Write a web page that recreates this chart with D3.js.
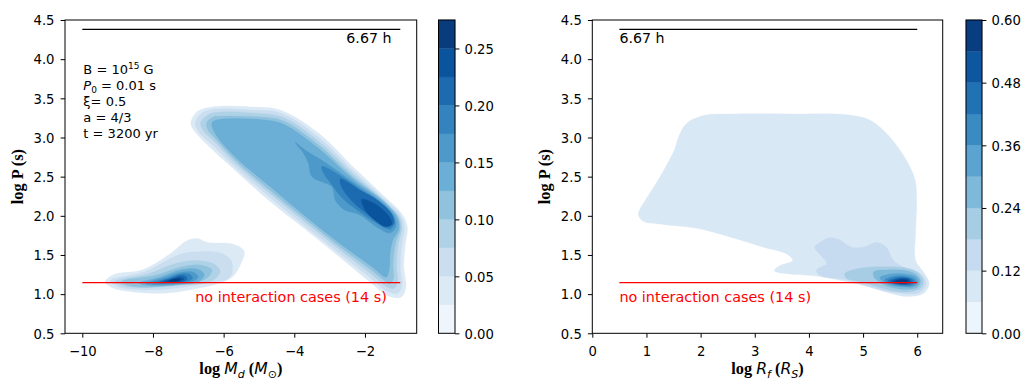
<!DOCTYPE html>
<html>
<head>
<meta charset="utf-8">
<script src="https://cdn.jsdelivr.net/npm/d3@7/dist/d3.min.js"></script>
<style>
  html, body { margin: 0; padding: 0; background: #fff; }
  svg { display: block; }
  text { font-family: "DejaVu Sans", sans-serif; fill: #000; }
</style>
</head>
<body>
<svg id="figure" width="1028" height="381"></svg>
<script>
// ---------------- axis ticks ----------------
const periodTicks = [0.5, 1.0, 1.5, 2.0, 2.5, 3.0, 3.5, 4.0, 4.5];
const diskMassTicks = [-10, -8, -6, -4, -2];
const radiusTicks = [0, 1, 2, 3, 4, 5, 6];

// ---------------- density contour levels ----------------
const diskMassLevels = [0, 0.025, 0.05, 0.075, 0.1, 0.125, 0.15, 0.175, 0.2, 0.225, 0.25, 0.275];
const radiusLevels = [0, 0.06, 0.12, 0.18, 0.24, 0.30, 0.36, 0.42, 0.48, 0.54, 0.60];
const diskMassBarTicks = [0, 0.05, 0.10, 0.15, 0.20, 0.25];
const radiusBarTicks = [0, 0.12, 0.24, 0.36, 0.48, 0.60];

// reference periods, log10(P / s)
const logPeriod667h = 4.38;        // 6.67 h
const logPeriodNoInteraction = 1.146; // 14 s
const massRefRange = [-10, -1];
const radiusRefRange = [0.5, 6];

// ---------------- KDE iso-density outlines: [level, [[x, logP], ...]] ----------------
// log P vs log Md : main (high-mass) population
const massMainContours = [
  [0.025, [[-6.93,3.18],[-6.75,3.33],[-6.35,3.39],[-5.20,3.39],[-4.40,3.35],[-3.30,3.05],[-2.37,2.64],[-1.43,2.24],[-0.96,2.03],[-0.80,1.86],[-0.86,1.62],[-0.90,1.35],[-0.84,1.08],[-0.98,0.96],[-1.35,0.98],[-1.90,1.17],[-2.84,1.52],[-3.78,1.86],[-4.73,2.20],[-5.67,2.58],[-6.33,2.85],[-6.82,3.08]]],
  [0.05, [[-6.80,3.19],[-6.62,3.31],[-6.30,3.36],[-5.15,3.35],[-4.38,3.31],[-3.30,3.00],[-2.37,2.59],[-1.44,2.21],[-1.00,2.01],[-0.88,1.85],[-0.96,1.62],[-1.00,1.35],[-0.96,1.10],[-1.08,1.01],[-1.38,1.04],[-1.88,1.22],[-2.84,1.56],[-3.78,1.90],[-4.73,2.25],[-5.67,2.62],[-6.31,2.90],[-6.72,3.08]]],
  [0.075, [[-6.65,3.19],[-6.48,3.28],[-6.25,3.32],[-5.05,3.31],[-4.34,3.26],[-3.30,2.95],[-2.37,2.55],[-1.45,2.19],[-1.03,1.99],[-0.95,1.84],[-1.06,1.63],[-1.10,1.35],[-1.08,1.14],[-1.20,1.07],[-1.40,1.10],[-1.86,1.27],[-2.84,1.61],[-3.78,1.95],[-4.73,2.30],[-5.67,2.67],[-6.29,2.96],[-6.58,3.09]]],
  [0.1, [[-6.48,3.19],[-6.30,3.26],[-6.20,3.27],[-4.90,3.26],[-4.30,3.21],[-3.30,2.90],[-2.37,2.51],[-1.45,2.18],[-1.06,1.98],[-1.00,1.83],[-1.13,1.66],[-1.20,1.40],[-1.20,1.19],[-1.30,1.13],[-1.42,1.16],[-1.83,1.31],[-2.84,1.65],[-3.78,1.99],[-4.73,2.34],[-5.67,2.71],[-6.26,3.00],[-6.45,3.10]]],
  [0.125, [[-6.33,3.19],[-6.15,3.23],[-4.75,3.22],[-4.26,3.16],[-3.31,2.86],[-2.37,2.48],[-1.45,2.17],[-1.08,1.97],[-1.05,1.82],[-1.20,1.70],[-1.28,1.55],[-1.32,1.30],[-1.40,1.22],[-1.80,1.35],[-2.84,1.69],[-3.78,2.03],[-4.73,2.39],[-5.67,2.75],[-6.24,3.05]]],
  [0.15, [[-3.97,2.94],[-3.69,2.84],[-3.12,2.68],[-2.37,2.44],[-1.61,2.20],[-1.19,2.01],[-1.12,1.86],[-1.30,1.78],[-1.61,1.84],[-2.18,2.02],[-2.56,2.07],[-2.84,2.20],[-2.94,2.37],[-3.50,2.50],[-3.60,2.67],[-3.74,2.80],[-3.95,2.92]]],
  [0.175, [[-3.22,2.63],[-2.65,2.50],[-1.99,2.29],[-1.33,2.07],[-1.16,1.92],[-1.28,1.83],[-1.61,1.89],[-2.18,2.06],[-2.65,2.23],[-2.94,2.40],[-3.17,2.54]]],
  [0.2, [[-2.70,2.47],[-2.18,2.34],[-1.61,2.19],[-1.24,2.02],[-1.19,1.90],[-1.43,1.86],[-1.80,1.98],[-2.37,2.19],[-2.65,2.36]]],
  [0.225, [[-2.09,2.21],[-1.71,2.15],[-1.33,2.00],[-1.24,1.90],[-1.38,1.86],[-1.71,1.94],[-1.99,2.07]]]
];

// log P vs log Md : low-mass population
const massSmallContours = [
  [0.025, [[-9.35,1.16],[-9.10,1.25],[-8.30,1.31],[-7.50,1.52],[-7.05,1.68],[-6.75,1.71],[-6.45,1.66],[-5.75,1.64],[-5.42,1.55],[-5.50,1.40],[-5.75,1.22],[-6.20,1.13],[-6.90,1.06],[-7.70,1.01],[-8.60,1.03],[-9.15,1.08]]],
  [0.05, [[-9.21,1.17],[-8.22,1.29],[-7.28,1.50],[-6.81,1.54],[-6.05,1.52],[-5.77,1.41],[-5.82,1.22],[-6.52,1.14],[-7.75,1.06],[-8.88,1.08]]],
  [0.075, [[-9.07,1.16],[-8.13,1.26],[-7.37,1.39],[-6.81,1.43],[-6.29,1.39],[-6.10,1.29],[-6.33,1.17],[-7.28,1.11],[-8.70,1.09]]],
  [0.1, [[-8.88,1.16],[-7.94,1.24],[-7.18,1.35],[-6.62,1.37],[-6.33,1.31],[-6.48,1.20],[-7.28,1.12],[-8.60,1.10]]],
  [0.125, [[-8.40,1.14],[-7.80,1.22],[-7.20,1.31],[-6.75,1.32],[-6.55,1.25],[-6.70,1.16],[-7.30,1.12],[-8.10,1.11]]],
  [0.15, [[-8.20,1.14],[-7.70,1.21],[-7.20,1.28],[-6.85,1.28],[-6.72,1.22],[-6.90,1.16],[-7.40,1.13],[-7.95,1.12]]],
  [0.175, [[-8.00,1.145],[-7.60,1.20],[-7.20,1.26],[-6.95,1.25],[-6.88,1.20],[-7.05,1.16],[-7.50,1.14]]],
  [0.2, [[-7.85,1.15],[-7.50,1.20],[-7.20,1.24],[-7.05,1.22],[-7.05,1.18],[-7.30,1.15],[-7.60,1.145]]],
  [0.225, [[-7.70,1.155],[-7.40,1.20],[-7.20,1.215],[-7.12,1.19],[-7.25,1.16],[-7.50,1.15]]],
  [0.25, [[-7.55,1.165],[-7.35,1.195],[-7.22,1.19],[-7.30,1.165],[-7.45,1.16]]]
];

// log P vs log Rf
const radiusContours = [
  [0.06, [[0.85,2.02],[0.98,2.20],[1.13,2.36],[1.35,2.62],[1.52,2.85],[1.60,3.02],[1.74,3.18],[2.05,3.28],[2.54,3.30],[3.77,3.30],[4.70,3.29],[5.13,3.22],[5.49,3.01],[5.80,2.71],[5.96,2.46],[5.99,2.20],[5.97,1.78],[5.97,1.43],[6.12,1.28],[6.22,1.14],[6.12,1.01],[5.85,0.97],[5.62,0.99],[5.00,1.11],[4.14,1.23],[3.60,1.26],[3.36,1.30],[3.45,1.36],[3.70,1.43],[3.60,1.51],[3.16,1.60],[2.54,1.73],[1.93,1.84],[1.31,1.89],[0.94,1.93]]],
  [0.12, [[4.11,1.60],[4.25,1.68],[4.39,1.72],[4.54,1.70],[4.79,1.60],[5.00,1.60],[5.25,1.66],[5.43,1.60],[5.56,1.43],[5.80,1.33],[6.07,1.26],[6.16,1.14],[6.04,1.02],[5.49,1.03],[4.70,1.18],[4.20,1.24],[4.14,1.31],[4.33,1.39],[4.24,1.48]]],
  [0.18, [[4.66,1.26],[4.94,1.33],[5.37,1.35],[5.74,1.34],[5.98,1.29],[6.11,1.18],[6.07,1.08],[5.86,1.03],[5.56,1.04],[4.94,1.16],[4.70,1.20]]],
  [0.24, [[5.19,1.28],[5.50,1.31],[5.80,1.30],[5.98,1.25],[6.06,1.17],[6.01,1.09],[5.80,1.06],[5.45,1.10],[5.22,1.20]]],
  [0.30, [[5.31,1.21],[5.55,1.26],[5.85,1.25],[5.99,1.21],[6.02,1.15],[5.95,1.10],[5.75,1.09],[5.45,1.13]]],
  [0.36, [[5.40,1.18],[5.60,1.23],[5.85,1.22],[5.95,1.19],[5.97,1.15],[5.90,1.11],[5.72,1.11],[5.48,1.14]]],
  [0.42, [[5.46,1.17],[5.63,1.21],[5.84,1.205],[5.91,1.18],[5.92,1.15],[5.86,1.12],[5.70,1.12],[5.52,1.145]]],
  [0.48, [[5.52,1.165],[5.67,1.20],[5.83,1.195],[5.87,1.17],[5.87,1.145],[5.80,1.13],[5.66,1.13],[5.56,1.15]]],
  [0.54, [[5.59,1.165],[5.70,1.185],[5.80,1.18],[5.83,1.16],[5.80,1.14],[5.68,1.14],[5.62,1.15]]]
];

// ---------------- colour map (sequential blues) ----------------
const bluesStops = ["#f7fbff", "#deebf7", "#c6dbef", "#9ecae1", "#6baed6", "#4292c6", "#2171b5", "#08519c", "#08306b"];
const blues = d3.scaleLinear()
  .domain(bluesStops.map((_, i) => i / (bluesStops.length - 1)))
  .range(bluesStops)
  .interpolate(d3.interpolateRgb);

function bandColor(levels, lo) {
  const i = levels.findIndex(l => Math.abs(l - lo) < 1e-9);
  const mid = (levels[i] + levels[i + 1]) / 2;
  return blues(mid / levels[levels.length - 1]);
}

// ---------------- layout ----------------
const svg = d3.select("#figure");
const plotTop = 20, plotBottom = 333.3;
const y = d3.scaleLinear().domain([0.5, 4.5]).range([plotBottom, plotTop]);
const xMass = d3.scaleLinear().domain([-10.49, -0.535]).range([65, 416.7]);
const xRadius = d3.scaleLinear().domain([0, 6.47]).range([592.3, 942.7]);
const tickLen = 4.4;
const minus = v => (v < 0 ? "\u2212" + Math.abs(v) : String(v));

function drawPanel(opts) {
  const { x, id, contourSets, levels } = opts;
  const [x0, x1] = x.range();
  const g = svg.append("g");

  g.append("clipPath").attr("id", id)
    .append("rect").attr("x", x0).attr("y", plotTop).attr("width", x1 - x0).attr("height", plotBottom - plotTop);

  const body = g.append("g").attr("clip-path", `url(#${id})`);
  const line = d3.line()
    .x(d => x(d[0])).y(d => y(d[1]))
    .curve(d3.curveCatmullRomClosed.alpha(0.5));

  // filled bands, lowest first so denser ones sit on top
  const all = [];
  contourSets.forEach(set => set.forEach(([lvl, pts]) => all.push({ lvl, pts })));
  all.sort((a, b) => a.lvl - b.lvl);
  body.selectAll("path.band").data(all).join("path")
    .attr("class", "band")
    .attr("d", d => line(d.pts))
    .attr("fill", d => bandColor(levels, d.lvl))
    .attr("stroke", d => bandColor(levels, d.lvl))
    .attr("stroke-width", 0.3);

  // reference periods
  body.append("line")
    .attr("x1", x(opts.refRange[0])).attr("x2", x(opts.refRange[1]))
    .attr("y1", y(logPeriod667h)).attr("y2", y(logPeriod667h))
    .attr("stroke", "#000").attr("stroke-width", 1.2);
  body.append("line")
    .attr("x1", x(opts.refRange[0])).attr("x2", x(opts.refRange[1]))
    .attr("y1", y(logPeriodNoInteraction)).attr("y2", y(logPeriodNoInteraction))
    .attr("stroke", "#ff0000").attr("stroke-width", 1.3);

  g.append("text")
    .attr("x", x(opts.hourLabel[0])).attr("y", y(opts.hourLabel[1]))
    .attr("text-anchor", opts.hourLabel[2])
    .style("font-size", "14.2px").text("6.67 h");
  g.append("text")
    .attr("x", x(opts.noIntLabel[0])).attr("y", y(opts.noIntLabel[1]))
    .attr("text-anchor", opts.noIntLabel[2])
    .style("font-size", "14.4px").style("fill", "#ff0000")
    .text("no interaction cases (14 s)");

  // axes
  const xa = g.append("g").attr("transform", `translate(0,${plotBottom})`)
    .call(d3.axisBottom(x).tickValues(opts.xTicks).tickSize(tickLen).tickFormat(opts.xFormat));
  xa.select(".domain").remove();
  xa.selectAll("line").attr("stroke", "#000").attr("stroke-width", 1);
  xa.selectAll("text").attr("y", 22.3).attr("dy", 0).style("font-size", "13.2px").style("font-family", "DejaVu Sans");

  const ya = g.append("g").attr("transform", `translate(${x0},0)`)
    .call(d3.axisLeft(y).tickValues(periodTicks).tickSize(tickLen).tickFormat(d3.format(".1f")));
  ya.select(".domain").remove();
  ya.selectAll("line").attr("stroke", "#000").attr("stroke-width", 1);
  ya.selectAll("text").attr("x", -10.5).attr("dy", "0.36em").style("font-size", "13.2px").style("font-family", "DejaVu Sans");

  g.append("rect").attr("x", x0).attr("y", plotTop).attr("width", x1 - x0).attr("height", plotBottom - plotTop)
    .attr("fill", "none").attr("stroke", "#000").attr("stroke-width", 1);

  // y label
  g.append("text")
    .attr("transform", `translate(${opts.yLabelX},${(plotTop + plotBottom) / 2}) rotate(-90)`)
    .attr("text-anchor", "middle")
    .style("font-family", "'Liberation Serif', serif").style("font-weight", "bold").style("font-size", "16.3px")
    .text("log P (s)");

  // x label
  const xl = g.append("text")
    .attr("x", (x0 + x1) / 2).attr("y", 374)
    .attr("text-anchor", "middle").style("font-size", "15.6px");
  opts.xLabel.forEach(p => {
    const t = xl.append("tspan").text(p.t);
    if (p.serif) t.style("font-family", "'Liberation Serif', serif").style("font-weight", "bold").style("font-size", "16.3px");
    if (p.it) t.style("font-style", "italic");
    if (p.size) t.style("font-size", p.size + "px");
    if (p.dy) t.attr("dy", p.dy);
  });
}

function drawColorbar(opts) {
  const { x0, width, levels, ticks, fmt } = opts;
  const s = d3.scaleLinear().domain([levels[0], levels[levels.length - 1]]).range([plotBottom, plotTop]);
  const g = svg.append("g");
  g.selectAll("rect.band").data(levels.slice(0, -1)).join("rect")
    .attr("class", "band")
    .attr("x", x0).attr("width", width)
    .attr("y", (d, i) => s(levels[i + 1]))
    .attr("height", (d, i) => s(levels[i]) - s(levels[i + 1]))
    .attr("fill", d => bandColor(levels, d))
    .attr("stroke", d => bandColor(levels, d)).attr("stroke-width", 0.3);
  g.append("rect").attr("x", x0).attr("y", plotTop).attr("width", width).attr("height", plotBottom - plotTop)
    .attr("fill", "none").attr("stroke", "#000").attr("stroke-width", 1);
  const a = g.append("g").attr("transform", `translate(${x0 + width},0)`)
    .call(d3.axisRight(s).tickValues(ticks).tickSize(tickLen).tickFormat(fmt));
  a.select(".domain").remove();
  a.selectAll("line").attr("stroke", "#000").attr("stroke-width", 1);
  a.selectAll("text").attr("x", 9.5).attr("dy", "0.36em").style("font-size", "13.2px").style("font-family", "DejaVu Sans");
}

// ---------------- left: period vs disk mass ----------------
drawPanel({
  x: xMass, id: "clipMass",
  contourSets: [massMainContours, massSmallContours],
  levels: diskMassLevels,
  xTicks: diskMassTicks, xFormat: minus,
  refRange: massRefRange,
  hourLabel: [-1.25, 4.21, "end"],
  noIntLabel: [-1.38, 0.905, "end"],
  yLabelX: 22.5,
  xLabel: [
    { t: "log", serif: true },
    { t: " ", serif: true },
    { t: "M", it: true },
    { t: "d", it: true, size: 11, dy: 3.5 },
    { t: " (", serif: true, dy: -3.5 },
    { t: "M", it: true },
    { t: "\u2299", size: 11, dy: 3.5 },
    { t: ")", serif: true, dy: -3.5 }
  ]
});

// parameter box
const params = svg.append("g").style("font-size", "13px");
const px = xMass(-9.97), py0 = 73.5, dl = 16.1;
const l1 = params.append("text").attr("x", px).attr("y", py0);
l1.append("tspan").text("B = 10");
l1.append("tspan").text("15").style("font-size", "9px").attr("dy", -5);
l1.append("tspan").text(" G").attr("dy", 5);
const l2 = params.append("text").attr("x", px).attr("y", py0 + dl);
l2.append("tspan").text("P").style("font-style", "italic");
l2.append("tspan").text("0").style("font-size", "9px").attr("dy", 3);
l2.append("tspan").text(" = 0.01 s").attr("dy", -3);
params.append("text").attr("x", px).attr("y", py0 + 2 * dl).text("\u03BE= 0.5");
params.append("text").attr("x", px).attr("y", py0 + 3 * dl).text("a = 4/3");
params.append("text").attr("x", px).attr("y", py0 + 4 * dl).text("t = 3200 yr");

drawColorbar({ x0: 438.5, width: 16.5, levels: diskMassLevels, ticks: diskMassBarTicks, fmt: d3.format(".2f") });

// ---------------- right: period vs fallback radius ----------------
drawPanel({
  x: xRadius, id: "clipRadius",
  contourSets: [radiusContours],
  levels: radiusLevels,
  xTicks: radiusTicks, xFormat: d3.format("d"),
  refRange: radiusRefRange,
  hourLabel: [0.5, 4.21, "start"],
  noIntLabel: [0.5, 0.905, "start"],
  yLabelX: 550,
  xLabel: [
    { t: "log", serif: true },
    { t: " ", serif: true },
    { t: "R", it: true },
    { t: "f", it: true, size: 11, dy: 3.5 },
    { t: " (", serif: true, dy: -3.5 },
    { t: "R", it: true },
    { t: "S", it: true, size: 11, dy: 3.5 },
    { t: ")", serif: true, dy: -3.5 }
  ]
});

drawColorbar({ x0: 966, width: 16, levels: radiusLevels, ticks: radiusBarTicks, fmt: d3.format(".2f") });
</script>
</body>
</html>
